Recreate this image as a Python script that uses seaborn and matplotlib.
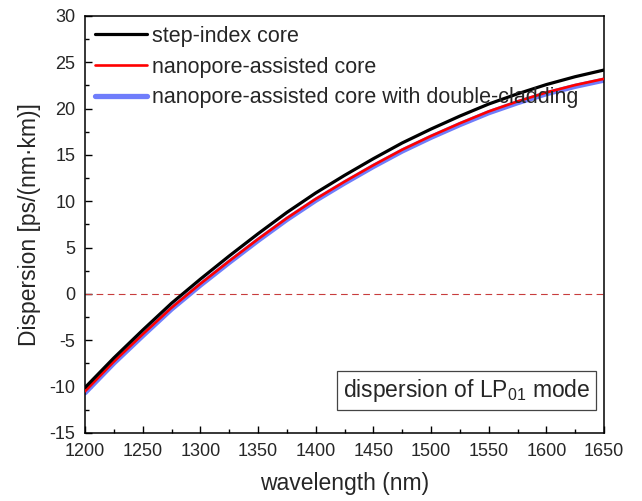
import numpy as np
import pandas as pd
import matplotlib
matplotlib.use("Agg")
import matplotlib.pyplot as plt
import seaborn as sns
from matplotlib.ticker import MultipleLocator

wavelength = [1200, 1225, 1250, 1275, 1300, 1325, 1350, 1375, 1400, 1425,
              1450, 1475, 1500, 1525, 1550, 1575, 1600, 1625, 1650]
step_index = [-10.1, -6.9, -3.9, -1.0, 1.6, 4.1, 6.5, 8.8, 10.9, 12.8,
              14.6, 16.3, 17.8, 19.2, 20.5, 21.6, 22.6, 23.45, 24.17]
nanopore = [-10.5, -7.3, -4.35, -1.48, 1.1, 3.55, 5.92, 8.18, 10.25, 12.12,
            13.9, 15.57, 17.05, 18.42, 19.7, 20.78, 21.75, 22.55, 23.22]
double_clad = [-10.65, -7.45, -4.5, -1.62, 0.96, 3.41, 5.78, 8.04, 10.11, 11.98,
               13.76, 15.43, 16.91, 18.28, 19.56, 20.64, 21.61, 22.41, 23.08]
labels = ["step-index core", "nanopore-assisted core",
          "nanopore-assisted core with double-cladding"]

sns.set_theme(style="white")
plt.rcParams['font.family'] = ['Liberation Sans', 'DejaVu Sans']
plt.rcParams['mathtext.fontset'] = 'custom'
plt.rcParams['mathtext.rm'] = 'Liberation Sans'
plt.rcParams['mathtext.it'] = 'Liberation Sans'
plt.rcParams['axes.unicode_minus'] = False

fig = plt.figure(figsize=(6.42, 5.01), dpi=100)
ax = fig.add_axes([85/642, 1-433/501, (604-85)/642, (433-16)/501])

df = pd.DataFrame({"wavelength": wavelength, "D": double_clad})
sns.lineplot(data=df, x="wavelength", y="D", ax=ax, color="#6f7dfb",
             linewidth=3.8, label=labels[2], zorder=2)
df = pd.DataFrame({"wavelength": wavelength, "D": nanopore})
sns.lineplot(data=df, x="wavelength", y="D", ax=ax, color="#ff0000",
             linewidth=1.9, label=labels[1], zorder=3)
df = pd.DataFrame({"wavelength": wavelength, "D": step_index})
sns.lineplot(data=df, x="wavelength", y="D", ax=ax, color="black",
             linewidth=2.3, label=labels[0], zorder=4)

ax.axhline(0, color="#c83c3c", linestyle=(0, (6, 4)), linewidth=0.8, zorder=1)

ax.set_xlim(1200, 1650)
ax.set_ylim(-15, 30)
ax.xaxis.set_major_locator(MultipleLocator(50))
ax.xaxis.set_minor_locator(MultipleLocator(25))
ax.yaxis.set_major_locator(MultipleLocator(5))
ax.yaxis.set_minor_locator(MultipleLocator(2.5))
ax.tick_params(which="both", direction="in", top=False, right=False,
               bottom=True, left=True, color="black", width=1.0)
ax.tick_params(which="major", length=5, labelsize=13)
ax.tick_params(axis="x", which="major", pad=7)
ax.tick_params(axis="y", which="major", pad=7)
ax.tick_params(which="minor", length=3)
for s in ax.spines.values():
    s.set_color("black")
    s.set_linewidth(1.1)

ax.set_xlabel("wavelength (nm)", fontsize=16.5, labelpad=9)
ax.set_ylabel("Dispersion [ps/(nm·km)]", fontsize=16.5, labelpad=6)

handles, labs = ax.get_legend_handles_labels()
order = [2, 1, 0]
leg = ax.legend([handles[i] for i in order], [labs[i] for i in order],
                loc="upper left", bbox_to_anchor=(0.019, 0.976),
                frameon=False, fontsize=15.5, handlelength=2.42,
                handletextpad=0.23, labelspacing=0.45, borderpad=0,
                borderaxespad=0)

ax.text(0.973, 0.102, r"dispersion of LP$_{01}$ mode", transform=ax.transAxes,
        ha="right", va="center", fontsize=16.5,
        bbox=dict(boxstyle="square,pad=0.25", facecolor="white",
                  edgecolor="#444444", linewidth=0.9))

fig.savefig("out.png", dpi=100)
